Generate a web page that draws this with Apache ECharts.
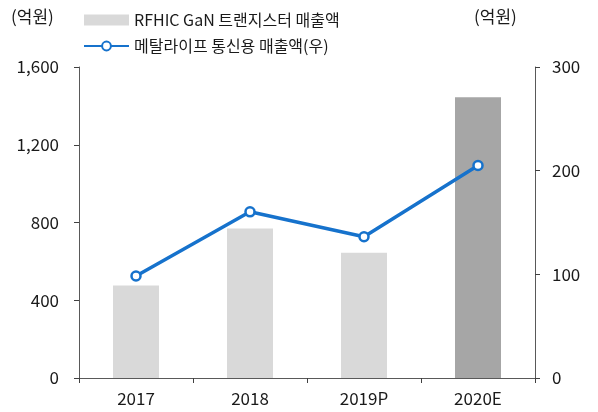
<!DOCTYPE html>
<html>
<head>
<meta charset="utf-8">
<script src="https://cdn.jsdelivr.net/npm/echarts@6/dist/echarts.min.js"></script>
<style>
  html, body { margin: 0; padding: 0; background: #fff; }
  #chart { width: 598px; height: 412px; }
</style>
</head>
<body>
<div id="chart"></div>
<script>
var years = ["2017", "2018", "2019P", "2020E"];
var barValues = [476, 769, 644, 1445];
var lineValues = [98.4, 160.3, 136.2, 205];
var barName = "RFHIC GaN 트랜지스터 매출액";
var lineName = "메탈라이프 통신용 매출액(우)";
var leftTicks = [0, 400, 800, 1200, 1600];
var rightTicks = [0, 100, 200, 300];

var FONT = "'Noto Sans CJK KR', 'Noto Sans', sans-serif";
var TXT = "#1a1a1a";
var chart = echarts.init(document.getElementById("chart"));

var barData = barValues.map(function (v, i) {
  return {
    value: v,
    itemStyle: { color: i === barValues.length - 1 ? "#a6a6a6" : "#d9d9d9" },
  };
});

var option = {
  animation: false,
  textStyle: { fontFamily: FONT },
  grid: { left: 79, right: 63, top: 67, bottom: 34 },
  legend: {
    orient: "vertical",
    left: 78,
    top: 7,
    itemWidth: 45,
    itemHeight: 11,
    itemGap: 10,
    textStyle: { fontSize: 16, color: TXT, fontFamily: FONT },
    data: [
      { name: barName, icon: "rect" },
      { name: lineName },
    ],
  },
  graphic: [
    { type: "text", left: 11, top: 8, style: { text: "(억원)", fontSize: 17, fill: TXT, fontFamily: FONT } },
    { type: "text", left: 474, top: 8, style: { text: "(억원)", fontSize: 17, fill: TXT, fontFamily: FONT } },
  ],
  xAxis: {
    type: "category",
    data: years,
    axisLine: { lineStyle: { color: "#595959", width: 1 } },
    axisTick: { show: true, inside: false, length: 5, lineStyle: { color: "#404040" } },
    axisLabel: { fontSize: 17, color: TXT, margin: 12 },
  },
  yAxis: [
    {
      type: "value",
      min: leftTicks[0],
      max: leftTicks[leftTicks.length - 1],
      interval: 400,
      splitLine: { show: false },
      axisLine: { show: true, lineStyle: { color: "#595959" } },
      axisTick: { show: true, length: 5, lineStyle: { color: "#404040" } },
      axisLabel: {
        fontSize: 17,
        color: TXT,
        margin: 20,
        formatter: function (v) {
          return v.toString().replace(/\B(?=(\d{3})+(?!\d))/g, ",");
        },
      },
    },
    {
      type: "value",
      min: rightTicks[0],
      max: rightTicks[rightTicks.length - 1],
      interval: 100,
      splitLine: { show: false },
      axisLine: { show: true, lineStyle: { color: "#595959" } },
      axisTick: { show: true, length: 5, lineStyle: { color: "#404040" } },
      axisLabel: { fontSize: 17, color: TXT, margin: 17 },
    },
  ],
  series: [
    {
      name: barName,
      type: "bar",
      data: barData,
      barWidth: 46,
      itemStyle: { color: "#d9d9d9" },
    },
    {
      name: lineName,
      type: "line",
      yAxisIndex: 1,
      data: lineValues,
      symbol: "circle",
      symbolSize: 9,
      lineStyle: { color: "#1672cc", width: 3.5 },
      itemStyle: { color: "#fff", borderColor: "#1672cc", borderWidth: 2.5 },
    },
  ],
};
chart.setOption(option);
</script>
</body>
</html>
